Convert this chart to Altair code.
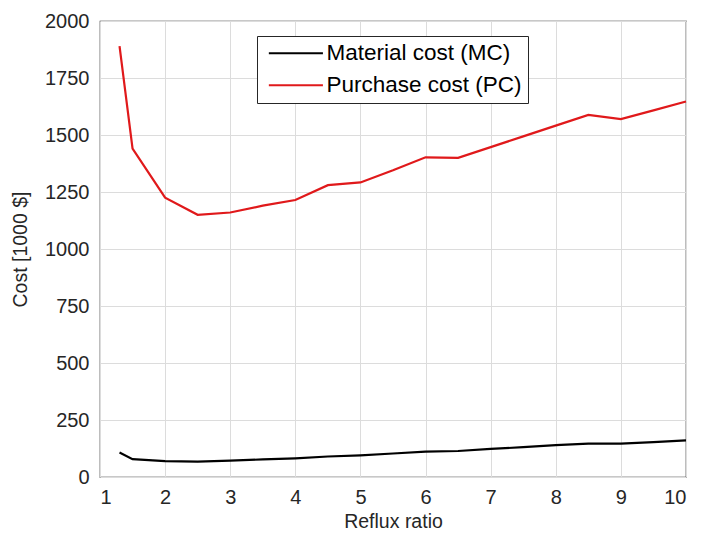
import altair as alt
import pandas as pd

reflux = [1.3, 1.5, 2, 2.5, 3, 3.5, 4, 4.5, 5, 5.5, 6, 6.5, 7, 7.5, 8, 8.5, 9, 9.5, 10]
material = [107, 78, 70, 67, 72, 77, 82, 90, 95, 103, 111, 114, 123, 131, 140, 146, 146, 153, 161]
purchase = [1890, 1440, 1225, 1150, 1160, 1190, 1215, 1280, 1292, 1345, 1402, 1400, 1447, 1494, 1541, 1588, 1570, 1608, 1647]
series_names = ["Material cost (MC)", "Purchase cost (PC)"]
series_colors = ["#000000", "#e0191b"]
x_ticks = [1, 2, 3, 4, 5, 6, 7, 8, 9, 10]
y_ticks = [0, 250, 500, 750, 1000, 1250, 1500, 1750, 2000]

rows = []
for r, m, p in zip(reflux, material, purchase):
    rows.append({"Reflux": r, "Cost": m, "Series": series_names[0]})
    rows.append({"Reflux": r, "Cost": p, "Series": series_names[1]})
df = pd.DataFrame(rows)

font = "Liberation Sans"

chart = alt.Chart(df).mark_line(strokeWidth=2.2).encode(
    x=alt.X("Reflux:Q", scale=alt.Scale(domain=[1, 10], nice=False),
            axis=alt.Axis(title="Reflux ratio", values=x_ticks, format="d")),
    y=alt.Y("Cost:Q", scale=alt.Scale(domain=[0, 2000], nice=False),
            axis=alt.Axis(title="Cost [1000 $]", values=y_ticks, format="d")),
    color=alt.Color("Series:N",
                    scale=alt.Scale(domain=series_names, range=series_colors),
                    legend=alt.Legend(title=None, orient="none", legendX=157, legendY=15,
                                      symbolType="M-1,0H9", symbolSize=117, symbolStrokeWidth=2.2,
                                      labelFontSize=22.5, labelFont=font, labelColor="#000000",
                                      labelLimit=0,
                                      strokeColor="#262626", fillColor="#ffffff",
                                      padding=6, rowPadding=9, labelOffset=41)),
).properties(
    width=586, height=456,
    background="#ffffff",
    autosize=alt.AutoSizeParams(type="none"),
    padding={"left": 100, "top": 21, "right": 16, "bottom": 65},
).configure_view(
    stroke="#262626", strokeWidth=1.2
).configure_axis(
    grid=True, gridColor="#dcdcdc", gridWidth=1,
    domain=False, ticks=False,
    labelFont=font, labelFontSize=20, labelColor="#262626",
    titleFont=font, titleFontSize=19.5, titleColor="#262626", titleFontWeight="normal",
).configure_axisX(
    labelPadding=10, titlePadding=5
).configure_axisY(
    labelPadding=11, titlePadding=14
)

chart.save("out.html", embed_options={"renderer": "svg", "actions": False})
